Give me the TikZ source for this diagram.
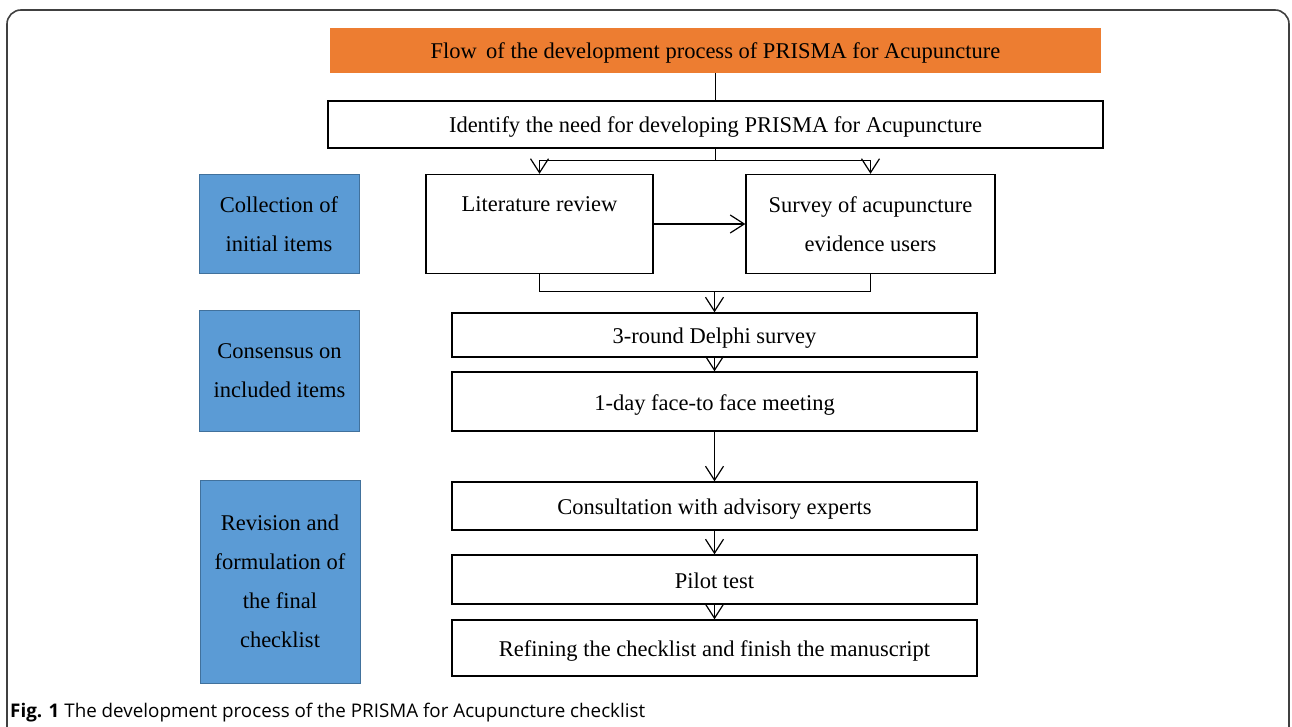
\documentclass[tikz,border=0pt]{standalone}
\usepackage{fontspec}
\setmainfont{Liberation Serif}
\newfontfamily\capfont{Open Sans}
\usepackage{xcolor}
\usetikzlibrary{arrows.meta,positioning,calc}

\definecolor{headorange}{HTML}{ED7D31}
\definecolor{phaseblue}{HTML}{5B9BD5}
\definecolor{phaseedge}{HTML}{41719C}

\begin{document}
\begin{tikzpicture}[x=1pt, y=-1pt,
  stage/.style={draw, line width=1.4pt, inner sep=0pt, align=center, font=\fontsize{22.5}{39}\selectfont},
  oneline/.style={text height=19pt, text depth=2pt},
  phase/.style={draw=phaseedge, line width=0.8pt, fill=phaseblue, inner sep=0pt, minimum width=160pt, align=center, font=\fontsize{22.5}{39}\selectfont},
  head/.style={fill=headorange, inner sep=0pt, minimum width=771pt, minimum height=45pt, oneline, font=\fontsize{22.5}{39}\selectfont},
  arrow/.style={-{Straight Barb[length=14pt,width=18pt,line width=1.2pt]}, line width=1.3pt},
  line/.style={line width=1.3pt},
]
\useasboundingbox (0,0) rectangle (1292,727);

% frame round the figure
\draw[line width=1.6pt, color=black!75, rounded corners=14pt] (7,727) -- (7,10) -- (1289,10) -- (1289,727);

\node[head] (title) at (715.5,50.5) {Flow\, of the development process of PRISMA for Acupuncture};
\node[stage, oneline, minimum width=775pt, minimum height=47pt, below=27pt of title] (need) {Identify the need for developing PRISMA for Acupuncture};

\node[stage, minimum width=227pt, minimum height=99pt] (lit) at (539.5,224) {Literature review\\\mbox{}};
\node[stage, minimum width=249pt, minimum height=99pt] (survey) at (870.5,224) {Survey of acupuncture\\evidence users};

\node[stage, oneline, minimum width=525pt, minimum height=44pt] (delphi) at (714.5,335) {3-round Delphi survey};
\node[stage, oneline, minimum width=525pt, minimum height=59pt, below=13.6pt of delphi] (meet) {1-day face-to face meeting};
\node[stage, oneline, minimum width=525pt, minimum height=48pt, below=49.6pt of meet] (consult) {Consultation with advisory experts};
\node[stage, oneline, minimum width=525pt, minimum height=49pt, below=23.6pt of consult] (pilot) {Pilot test};
\node[stage, oneline, minimum width=525pt, minimum height=56pt, below=14.6pt of pilot] (refine) {Refining the checklist and finish the manuscript};

\node[phase, minimum height=99pt] (ph1) at (279,224) {Collection of\\initial items};
\node[phase, minimum height=121pt] (ph2) at (279.5,370.5) {Consensus on\\included items};
\node[phase, minimum height=203pt] (ph3) at (280,581.5) {Revision and\\formulation of\\the final\\checklist};

% connectors
\coordinate (split) at ($(need.south)+(0,12)$);
\coordinate (merge) at ([yshift=21pt]delphi.north);
\draw[line] (title.south) -- (title.south |- need.north);
\draw[line] (need.south) -- (split);
\draw[arrow] (split) -| (lit.north);
\draw[arrow] (split) -| (survey.north);
\draw[arrow] (lit) -- (survey);
\draw[line] (lit.south) |- (merge) -| (survey.south);
\draw[arrow] (merge) -- (delphi.north);
\draw[arrow] (delphi) -- (meet);
\draw[arrow] (meet) -- (consult);
\draw[arrow] (consult) -- (pilot);
\draw[arrow] (pilot) -- (refine);

\node[anchor=base west, inner sep=0pt, font=\capfont\fontsize{18.8}{20}\selectfont] (cap) at (10,717) {\textbf{Fig. 1} The development process of the PRISMA for Acupuncture checklist};
\end{tikzpicture}
\end{document}
